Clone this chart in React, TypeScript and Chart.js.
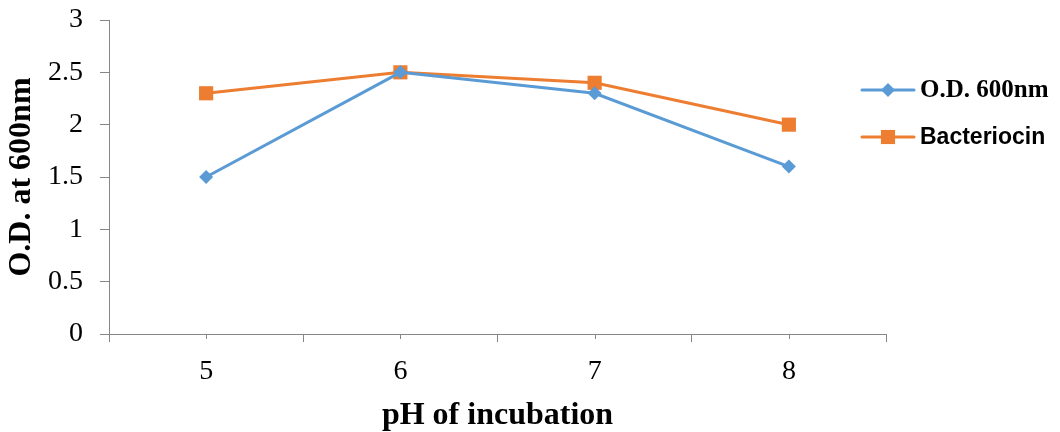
import React, { useEffect, useRef } from "react";
import { Chart, registerables } from "chart.js";

Chart.register(...registerables);

const categories: string[] = ["5", "6", "7", "8"];
const odValues: number[] = [1.5, 2.5, 2.3, 1.6];
const bacteriocinValues: number[] = [2.3, 2.5, 2.4, 2.0];
const seriesNames: string[] = ["O.D. 600nm", "Bacteriocin"];
const xTitle = "pH of incubation";
const yTitle = "O.D. at 600nm";

const BLUE = "#5B9BD5";
const ORANGE = "#ED7D31";
const AXIS = "#868686";

const minorTicks = {
  id: "minorTicks",
  afterDraw(chart: any) {
    const x = chart.scales.x;
    const ctx = chart.ctx;
    ctx.save();
    ctx.strokeStyle = AXIS;
    ctx.lineWidth = 1;
    for (let i = 0; i < categories.length; i++) {
      const px = Math.round(x.getPixelForValue(i)) + 0.5;
      ctx.beginPath();
      ctx.moveTo(px, x.top);
      ctx.lineTo(px, x.top + 5);
      ctx.stroke();
    }
    ctx.restore();
  },
};

const customLegend = {
  id: "customLegend",
  afterDraw(chart: any) {
    const ctx = chart.ctx;
    const left = chart.chartArea.right - 24;
    const rows = [
      { y: 90, color: BLUE, style: "rectRot", radius: 7, font: "bold 25px 'Liberation Serif', serif", text: seriesNames[0] },
      { y: 137, color: ORANGE, style: "rect", radius: 10, font: "bold 23px 'Liberation Sans', 'DejaVu Sans', sans-serif", text: seriesNames[1] },
    ];
    ctx.save();
    for (const r of rows) {
      ctx.strokeStyle = r.color;
      ctx.lineWidth = 3;
      ctx.lineCap = "round";
      ctx.beginPath();
      ctx.moveTo(left, r.y);
      ctx.lineTo(left + 52, r.y);
      ctx.stroke();
      ctx.fillStyle = r.color;
      const s = r.radius;
      ctx.beginPath();
      if (r.style === "rectRot") {
        const cx = left + 26;
        ctx.moveTo(cx, r.y - s);
        ctx.lineTo(cx + s, r.y);
        ctx.lineTo(cx, r.y + s);
        ctx.lineTo(cx - s, r.y);
        ctx.closePath();
      } else {
        const h = s * Math.SQRT1_2;
        ctx.rect(left + 26 - h, r.y - h, 2 * h, 2 * h);
      }
      ctx.fill();
      ctx.fillStyle = "#000";
      ctx.font = r.font;
      ctx.textBaseline = "middle";
      ctx.textAlign = "left";
      ctx.fillText(r.text, left + 58, r.y + 1);
    }
    ctx.restore();
  },
};

export default function App() {
  const ref = useRef<HTMLCanvasElement | null>(null);
  useEffect(() => {
    document.body.style.margin = "0";
    const canvas = ref.current!;
    const chart = new Chart(canvas, {
      type: "line",
      data: {
        labels: categories,
        datasets: [
          {
            label: seriesNames[0],
            data: odValues,
            borderColor: BLUE,
            backgroundColor: BLUE,
            borderWidth: 3,
            pointStyle: "rectRot",
            pointRadius: 7,
            pointBorderWidth: 0,
            pointBackgroundColor: BLUE,
            tension: 0,
          },
          {
            label: seriesNames[1],
            data: bacteriocinValues,
            borderColor: ORANGE,
            backgroundColor: ORANGE,
            borderWidth: 3,
            pointStyle: "rect",
            pointRadius: 10,
            pointBorderWidth: 0,
            pointBackgroundColor: ORANGE,
            tension: 0,
          },
        ],
      },
      options: {
        animation: false,
        responsive: false,
        maintainAspectRatio: false,
        layout: { padding: { top: 20, right: 174, bottom: 0, left: 0 } },
        plugins: {
          legend: { display: false },
          tooltip: { enabled: false },
        },
        scales: {
          x: {
            type: "category",
            offset: true,
            afterFit(scale: any) {
              scale.height = 98;
              scale.paddingLeft = 0;
              scale.paddingRight = 0;
            },
            grid: {
              offset: true,
              drawOnChartArea: false,
              drawTicks: true,
              tickLength: 8,
              color: AXIS,
            },
            border: { display: true, color: AXIS, width: 1 },
            ticks: {
              color: "#000",
              padding: 13,
              font: { family: "'Liberation Serif', serif", size: 28 },
              maxRotation: 0,
            },
            title: {
              display: true,
              text: xTitle,
              color: "#000",
              font: { family: "'Liberation Serif', serif", size: 32, weight: "bold", lineHeight: 1 },
              padding: { top: 12, bottom: 0 },
            },
          },
          y: {
            min: 0,
            max: 3,
            afterFit(scale: any) {
              scale.width = 109;
              scale.paddingTop = 0;
              scale.paddingBottom = 0;
            },
            ticks: {
              stepSize: 0.5,
              color: "#000",
              padding: 17,
              font: { family: "'Liberation Serif', serif", size: 28 },
              callback: (v: any) => String(Number(v)),
            },
            grid: {
              drawOnChartArea: false,
              drawTicks: true,
              tickLength: 9,
              color: AXIS,
            },
            border: { display: true, color: AXIS, width: 1 },
            title: {
              display: true,
              text: yTitle,
              color: "#000",
              font: { family: "'Liberation Serif', serif", size: 32, weight: "bold", lineHeight: 1 },
              padding: { top: 6, bottom: 0 },
            },
          },
        },
      },
      plugins: [minorTicks, customLegend],
    });
    return () => chart.destroy();
  }, []);
  return <canvas ref={ref} width={1060} height={432} style={{ display: "block" }} />;
}
